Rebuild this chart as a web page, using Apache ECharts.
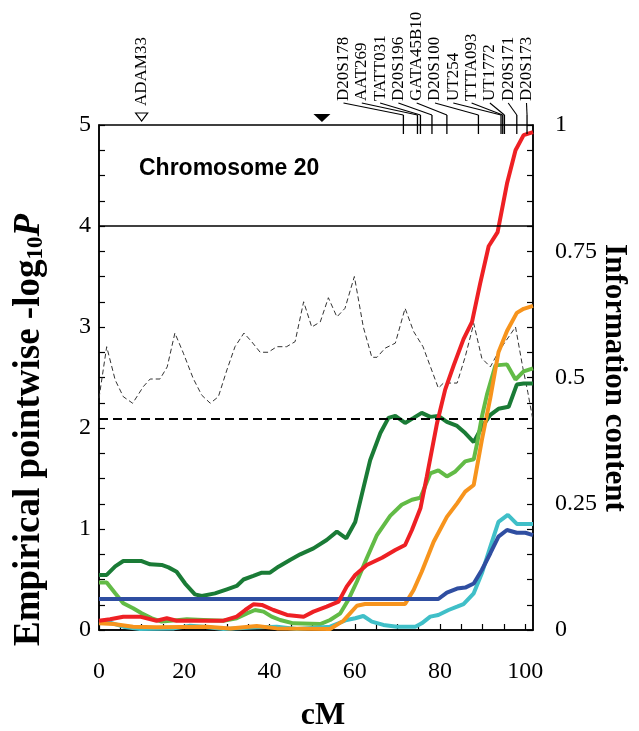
<!DOCTYPE html>
<html>
<head>
<meta charset="utf-8">
<script src="https://cdn.jsdelivr.net/npm/echarts/dist/echarts.min.js"></script>
<style>
  body { margin: 0; background: #fff; }
  #chart { width: 639px; height: 731px; }
</style>
</head>
<body>
<div id="chart"></div>
<script>
// 数据：位置 cM，-log10P
var darkGreen = [[0,0.545],[1.8,0.545],[3.8,0.63],[5.7,0.683],[10,0.683],[12,0.65],[14.7,0.644],[16.3,0.62],[18.2,0.577],[20.2,0.46],[22.5,0.353],[24.1,0.337],[27.2,0.363],[30,0.403],[32.3,0.436],[33.9,0.5],[36.2,0.535],[38.2,0.568],[40.1,0.568],[42.1,0.627],[44.8,0.693],[47.2,0.749],[50.3,0.808],[53.4,0.891],[55.8,0.974],[58,0.908],[60.1,1.07],[61.7,1.35],[63.6,1.68],[66,1.95],[67.9,2.1],[69.5,2.12],[71.8,2.05],[73.8,2.1],[75.7,2.15],[77.7,2.11],[79.6,2.12],[81.6,2.06],[84,2.02],[85.9,1.95],[87.9,1.86],[89.8,2.01],[91.8,2.13],[93.7,2.19],[96.1,2.21],[98,2.43],[99.6,2.44],[101.8,2.44]];
var lightGreen = [[0,0.47],[1.8,0.47],[3.8,0.363],[5.7,0.264],[8,0.215],[10,0.165],[12.4,0.116],[14.7,0.083],[20.6,0.106],[24.5,0.1],[29.2,0.092],[32.3,0.116],[34.7,0.165],[36.6,0.198],[38.6,0.182],[40.5,0.132],[42.5,0.099],[45.6,0.066],[51.9,0.059],[54.2,0.099],[56.6,0.165],[58.5,0.3],[60.5,0.48],[62.8,0.71],[65.2,0.94],[68.3,1.13],[71,1.24],[73.4,1.29],[75.4,1.31],[77.7,1.55],[79.6,1.58],[81.6,1.52],[83.6,1.57],[85.9,1.67],[87.9,1.69],[88.7,1.85],[89.8,2.11],[91,2.33],[93,2.62],[95.7,2.63],[97.7,2.48],[99.6,2.56],[101.8,2.59]];
var red = [[0,0.092],[2.6,0.106],[5.7,0.132],[9.6,0.132],[13.5,0.092],[15.9,0.116],[18.2,0.092],[29.2,0.092],[32.3,0.132],[34.3,0.198],[36.2,0.254],[38.2,0.248],[40.9,0.198],[44.1,0.149],[48,0.132],[50.3,0.182],[53.4,0.231],[56.2,0.281],[58.1,0.429],[60.1,0.545],[62.8,0.644],[66.4,0.716],[69.5,0.792],[71.8,0.842],[73.4,0.99],[75.4,1.205],[76.9,1.52],[79.3,2.05],[81.2,2.38],[83.2,2.62],[85.5,2.88],[87.5,3.05],[89.4,3.43],[91.4,3.8],[93.5,3.94],[95.7,4.42],[97.7,4.75],[99.6,4.9],[101.8,4.93]];
var orange = [[0,0.066],[3.4,0.059],[8,0.033],[13.5,0.026],[25.3,0.033],[30.8,0.016],[37,0.04],[41.7,0.016],[54.2,0.01],[57.3,0.09],[60.5,0.24],[62.4,0.257],[71.8,0.257],[73.8,0.396],[75.7,0.577],[78.5,0.874],[81.6,1.12],[84,1.254],[85.9,1.37],[87.9,1.436],[89.8,1.88],[91.8,2.3],[93.7,2.75],[95.7,2.96],[98,3.14],[99.6,3.18],[101.8,3.21]];
var cyan = [[0,0.083],[2.6,0.073],[5.7,0.033],[9.6,0.01],[17.6,0.016],[21.4,0.043],[24.5,0.033],[29.2,0.01],[37,0.026],[41.7,0.033],[46.4,0.01],[54.2,0.033],[58.1,0.099],[60.1,0.116],[62,0.139],[64,0.083],[66.7,0.05],[69.9,0.033],[74.2,0.033],[75.7,0.066],[77.7,0.132],[79.6,0.149],[82,0.198],[84,0.231],[85.5,0.257],[87.9,0.363],[89.8,0.561],[91.8,0.825],[93.7,1.07],[95.9,1.14],[98,1.05],[101.8,1.05]];
var blue = [[0,0.307],[79.6,0.307],[81.6,0.37],[84,0.41],[85.9,0.42],[87.9,0.46],[89.8,0.594],[91.8,0.76],[93.7,0.924],[95.7,0.99],[98,0.963],[100,0.963],[101.8,0.94]];
// 信息含量（右轴）
var infoContent = [[0,0.459],[1.8,0.561],[3.8,0.495],[5.7,0.462],[7.9,0.449],[10.4,0.482],[12,0.497],[14.3,0.497],[16,0.521],[17.8,0.588],[19.8,0.548],[22.1,0.498],[24.1,0.465],[26.1,0.449],[28,0.462],[30,0.515],[31.9,0.561],[34,0.588],[35.8,0.571],[37.8,0.55],[39.7,0.55],[41.7,0.561],[44,0.561],[46,0.571],[48,0.65],[49.9,0.6],[51.9,0.61],[53.8,0.658],[55.8,0.62],[57.7,0.637],[59.9,0.7],[62,0.6],[64,0.54],[65.2,0.54],[67.1,0.558],[69.5,0.568],[71.8,0.637],[73.8,0.591],[76,0.561],[79.6,0.479],[80.8,0.489],[84,0.489],[85.9,0.541],[87.9,0.607],[89.8,0.538],[91.8,0.521],[93.7,0.551],[97.7,0.6],[99.4,0.52],[100.6,0.47],[101.8,0.415]];

var thresholdHigh = 4;
var thresholdLow = 2.09;

// 标记
var markerNames = ['D20S178','AAT269','TATT031','D20S196','GATA45B10','D20S100','UT254','TTTA093','UT1772','D20S171','D20S173'];
var markerCM = [71.4, 74.7, 75.4, 78.1, 81.6, 89.0, 94.3, 94.7, 95.1, 98.0, 100.4];
var adamName = 'ADAM33';
var adamCM = 10.0;
var peakCM = 52.3;

var xTickLabels = [0, 20, 40, 60, 80, 100];
var leftTickLabels = [0, 1, 2, 3, 4, 5];
var rightTickLabels = [0, 0.25, 0.5, 0.75, 1];

var X_MAX = 101.8;
var Y_MAX = 5;

var serif = '"Liberation Serif", "Times New Roman", serif';
var chart = echarts.init(document.getElementById('chart'));

function line(name, data, color) {
  return {
    name: name, type: 'line', data: data, showSymbol: false, symbol: 'none',
    lineStyle: { color: color, width: 4 }, z: 3
  };
}

var series = [
  {
    name: 'info', type: 'line', data: infoContent, yAxisIndex: 1, showSymbol: false, symbol: 'none',
    lineStyle: { color: '#333', width: 1, type: [5, 3] }, z: 2
  },
  Object.assign(line('dg', darkGreen, '#1a7b36'), {
    markLine: {
      symbol: 'none', silent: true, animation: false, label: { show: false },
      data: [
        { yAxis: thresholdHigh, lineStyle: { color: '#000', type: 'solid', width: 1.5 } },
        { yAxis: thresholdLow, lineStyle: { color: '#000', type: [9, 5], width: 2 } }
      ]
    }
  }),
  line('lg', lightGreen, '#62bb46'),
  line('cy', cyan, '#40bfc8'),
  line('or', orange, '#f7941d'),
  line('bl', blue, '#2f4ea1'),
  line('rd', red, '#ee2024'),
  {
    // 顶部标记刻度和标签
    name: 'markers', type: 'custom', clip: false, silent: true, z: 5,
    data: markerCM.map(function (v) { return [v]; }),
    renderItem: function (params, api) {
      var i = params.dataIndex;
      var p = api.coord([api.value(0), Y_MAX]);
      var lx = 343.5 + i * 18.3;
      return {
        type: 'group', children: [
          { type: 'line', shape: { x1: p[0], y1: p[1] - 10, x2: p[0], y2: p[1] + 9 }, style: { stroke: '#000', lineWidth: 1.3 } },
          { type: 'line', shape: { x1: lx, y1: p[1] - 22, x2: p[0], y2: p[1] - 10 }, style: { stroke: '#000', lineWidth: 1.1 } },
          { type: 'text', x: lx, y: p[1] - 24, rotation: Math.PI / 2,
            style: { text: markerNames[i], fontFamily: serif, fontSize: 17, align: 'left', verticalAlign: 'middle', fill: '#000' } }
        ]
      };
    }
  },
  {
    name: 'triangles', type: 'custom', clip: false, silent: true, z: 5,
    data: [[adamCM], [peakCM]],
    renderItem: function (params, api) {
      var p = api.coord([api.value(0), Y_MAX]);
      if (params.dataIndex === 0) {
        return {
          type: 'group', children: [
            { type: 'polygon', shape: { points: [[p[0] - 6, p[1] - 12], [p[0] + 6, p[1] - 12], [p[0], p[1] - 4]] },
              style: { fill: '#fff', stroke: '#000', lineWidth: 1.2 } },
            { type: 'text', x: p[0], y: p[1] - 19, rotation: Math.PI / 2,
              style: { text: adamName, fontFamily: serif, fontSize: 17, align: 'left', verticalAlign: 'middle', fill: '#000' } }
          ]
        };
      }
      return { type: 'polygon', shape: { points: [[p[0] - 8.5, p[1] - 11], [p[0] + 8.5, p[1] - 11], [p[0], p[1] - 3]] },
        style: { fill: '#000' } };
    }
  }
];

var option = {
  animation: false,
  backgroundColor: '#fff',
  grid: { left: 99, right: 106, top: 125, bottom: 101, show: true, borderColor: '#000', borderWidth: 1.5, outerBoundsMode: 'none' },
  xAxis: {
    type: 'value', min: 0, max: X_MAX, interval: 5,
    axisLine: { show: true, lineStyle: { color: '#000', width: 1.5 } },
    axisTick: { inside: true, length: 6, lineStyle: { color: '#000', width: 1.2 } },
    splitLine: { show: false },
    axisLabel: {
      margin: 30, color: '#000', fontFamily: serif, fontSize: 24, showMaxLabel: false,
      formatter: function (v) { return xTickLabels.indexOf(Math.round(v * 1000) / 1000) >= 0 ? String(v) : ''; }
    }
  },
  yAxis: [
    {
      type: 'value', min: 0, max: Y_MAX, interval: 0.25, position: 'left',
      axisLine: { show: true, lineStyle: { color: '#000', width: 1.5 } },
      axisTick: { inside: true, length: 6, lineStyle: { color: '#000', width: 1.2 } },
      splitLine: { show: false },
      axisLabel: {
        margin: 8, color: '#000', fontFamily: serif, fontSize: 24,
        formatter: function (v) { var r = Math.round(v * 1000) / 1000; return leftTickLabels.indexOf(r) >= 0 ? String(r) : ''; }
      }
    },
    {
      type: 'value', min: 0, max: 1, interval: 0.05, position: 'right',
      axisLine: { show: true, lineStyle: { color: '#000', width: 1.5 } },
      axisTick: { inside: true, length: 6, lineStyle: { color: '#000', width: 1.2 } },
      splitLine: { show: false },
      axisLabel: {
        margin: 22, color: '#000', fontFamily: serif, fontSize: 24,
        formatter: function (v) { var r = Math.round(v * 1000) / 1000; return rightTickLabels.indexOf(r) >= 0 ? String(r) : ''; }
      }
    }
  ],
  graphic: [
    { type: 'text', left: 139, top: 157,
      style: { text: 'Chromosome 20', fontFamily: '"Liberation Sans", Arial, sans-serif', fontWeight: 'bold', fontSize: 23, fill: '#000' } },
    { type: 'text', x: 29, y: 430, rotation: Math.PI / 2,
      style: {
        text: '{m|Empirical pointwise -log}{s|10}{p|P}', align: 'center', verticalAlign: 'middle', fill: '#000',
        rich: {
          m: { fontFamily: serif, fontWeight: 'bold', fontSize: 37, lineHeight: 37, verticalAlign: 'top' },
          s: { fontFamily: serif, fontWeight: 'bold', fontSize: 23, lineHeight: 23, verticalAlign: 'bottom', padding: [17, 0, 0, 0] },
          p: { fontFamily: serif, fontWeight: 'bold', fontStyle: 'italic', fontSize: 37, lineHeight: 37, verticalAlign: 'top' }
        }
      } },
    { type: 'text', x: 614, y: 378, rotation: -Math.PI / 2,
      style: { text: 'Information content', fontFamily: serif, fontWeight: 'bold', fontSize: 31, align: 'center', verticalAlign: 'middle', fill: '#000' } },
    { type: 'text', x: 323, y: 716,
      style: { text: 'cM', fontFamily: serif, fontWeight: 'bold', fontSize: 32, align: 'center', verticalAlign: 'middle', fill: '#000' } }
  ],
  series: series
};

chart.setOption(option);
</script>
</body>
</html>
